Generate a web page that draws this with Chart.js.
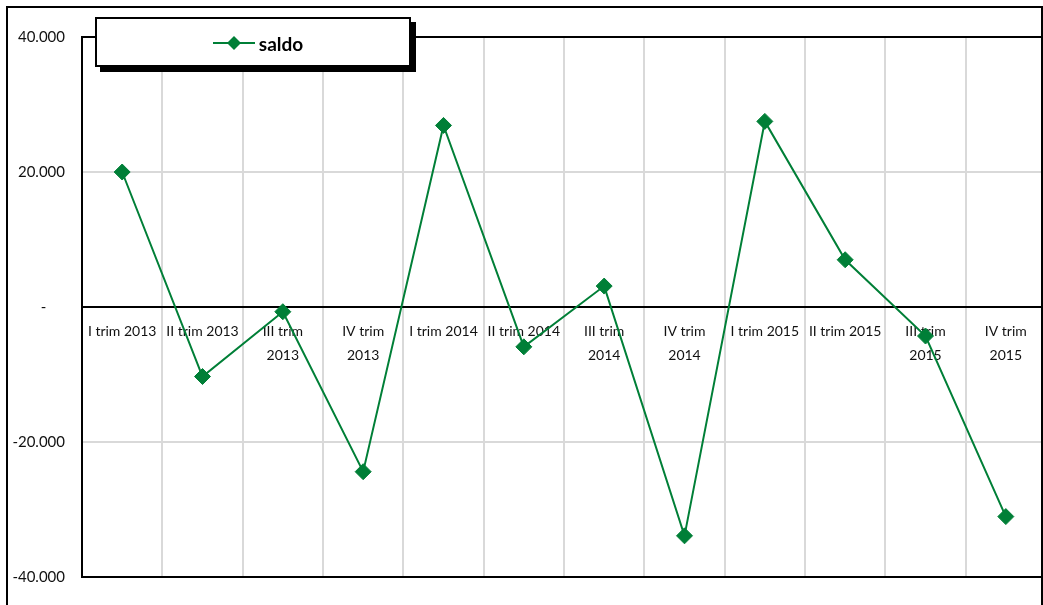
<!DOCTYPE html>
<html>
<head>
<meta charset="utf-8">
<script src="https://cdn.jsdelivr.net/npm/chart.js@4.4.1/dist/chart.umd.min.js"></script>
<style>
  html, body { margin: 0; padding: 0; background: #fff; overflow: hidden; }
  #wrap { position: relative; width: 1043px; height: 605px; overflow: hidden; }
  #chart { position: absolute; left: 0; top: 0; }
  #frame {
    position: absolute; left: 6px; top: 6px; width: 1033px; height: 620px;
    border: 2px solid #000; pointer-events: none;
  }
  #legend {
    position: absolute; left: 95px; top: 17px; width: 312px; height: 46px;
    border: 2px solid #000; background: #fff; box-shadow: 5px 5px 0 #000;
    display: flex; align-items: center; justify-content: center;
    font-family: Lato, "Open Sans", sans-serif; font-weight: bold; font-size: 19px; color: #000;
  }
  #legend span { display: flex; align-items: center; margin-left: 10px; margin-top: 2px; }
  #legend svg { margin-right: 4px; }
</style>
</head>
<body>
<div id="wrap">
  <canvas id="chart" width="1055" height="605"></canvas>
  <div id="frame"></div>
  <div id="legend"></div>
</div>
<script>
// quarters on the x axis (multi-line where the original wraps)
const categories = [
  ['I trim 2013'], ['II trim 2013'], ['III trim', '2013'], ['IV trim', '2013'],
  ['I trim 2014'], ['II trim 2014'], ['III trim', '2014'], ['IV trim', '2014'],
  ['I trim 2015'], ['II trim 2015'], ['III trim', '2015'], ['IV trim', '2015']
];
const saldo = [20000, -10300, -700, -24400, 26900, -5900, 3100, -33900, 27500, 7000, -4300, -31050];
const yTicks = [-40000, -20000, 0, 20000, 40000];

const green = '#007f37';

function fmt(n) {
    if (n === 0) return '-\u2003\u2002';
    const s = Math.abs(n).toString().replace(/\B(?=(\d{3})+(?!\d))/g, '.');
    return (n < 0 ? '-' : '') + s;
}

const chart = new Chart(document.getElementById('chart'), {
    type: 'line',
    data: {
        labels: categories,
        datasets: [{
            label: 'saldo',
            data: saldo,
            borderColor: green,
            backgroundColor: green,
            borderWidth: 2,
            pointStyle: 'rectRot',
            pointRadius: 8,
            pointBorderWidth: 1,
            tension: 0
        }]
    },
    options: {
        responsive: false,
        animation: false,
        layout: { padding: { left: 0, top: 37, right: 1, bottom: 28 } },
        plugins: {
            legend: { display: false },
            tooltip: { enabled: false }
        },
        scales: {
            x: {
                position: { y: 0 },
                offset: true,
                afterFit: axis => { axis.paddingLeft = 0; axis.paddingRight = 0; },
                grid: { color: '#d9d9d9', lineWidth: 2, offset: true, drawTicks: false },
                border: { color: '#000', width: 2 },
                ticks: {
                    autoSkip: false, maxRotation: 0, padding: 12,
                    color: '#111',
                    font: { family: 'Lato, "Open Sans", sans-serif', size: 14, lineHeight: '24px' }
                }
            },
            y: {
                min: -40000, max: 40000,
                afterBuildTicks: axis => { axis.ticks = yTicks.map(v => ({ value: v })); },
                afterFit: axis => { axis.width = 82; },
                grid: {
                    lineWidth: 2, drawTicks: false,
                    color: ctx => ctx.tick && (Math.abs(ctx.tick.value) === 40000 || ctx.tick.value === 0) ? '#000' : '#d9d9d9'
                },
                border: { color: '#000', width: 2 },
                ticks: {
                    padding: 17, color: '#111',
                    font: { family: 'Lato, "Open Sans", sans-serif', size: 15 },
                    callback: v => fmt(v)
                }
            }
        }
    }
});

// html legend built from the dataset
const ds = chart.data.datasets[0];
document.getElementById('legend').innerHTML =
    '<span><svg width="42" height="16"><line x1="0" y1="8" x2="42" y2="8" stroke="' + ds.borderColor + '" stroke-width="2"/>' +
    '<polygon points="21,1 28,8 21,15 14,8" fill="' + ds.backgroundColor + '"/></svg>' + ds.label + '</span>';
</script>
</body>
</html>
